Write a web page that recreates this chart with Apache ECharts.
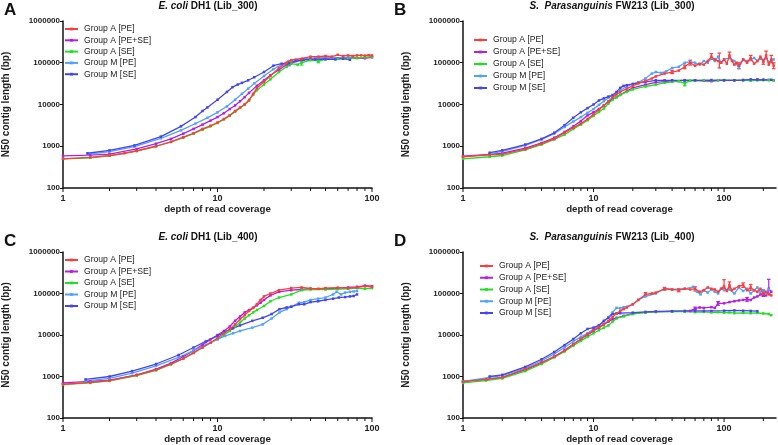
<!DOCTYPE html>
<html><head><meta charset="utf-8">
<script src="https://cdn.jsdelivr.net/npm/echarts@6/dist/echarts.min.js"></script>
<style>html,body{margin:0;padding:0;background:#fff}#c{width:778px;height:445px}</style>
</head><body><div id="c"></div>
<script>
// ---------- DATA ----------
const seriesNames = ['Group A [PE]', 'Group A [PE+SE]', 'Group A [SE]', 'Group M [PE]', 'Group M [SE]'];
const panelTitlesItalic = ['E. coli', 'S.  Parasanguinis', 'E. coli', 'S.  Parasanguinis'];
const panelTitlesRest = [' DH1 (Lib_300)', ' FW213 (Lib_300)', ' DH1 (Lib_400)', ' FW213 (Lib_400)'];
const panelLetters = ['A', 'B', 'C', 'D'];
const xMaxByPanel = [100, 250, 100, 250];
const yTickLabels = ['100', '1000', '10000', '100000', '1000000'];

// Panel A : E. coli DH1 (Lib_300)  [coverage, N50]
const A_APE = [[1,500],[1.5,540],[2,600],[2.5,680],[3,780],[4,1000],[5,1280],[6,1650],[7,2050],[8,2600],[9,3100],[10,3700],[11,4500],[12,5500],[13,7000],[14,8500],[15,10000],[16,12500],[17,18000],[18,25000],[20,35000],[22,48000],[25,75000],[28,100000],[30,115000],[35,125000],[40,140000],[45,140000],[50,145000],[55,140000],[60,155000],[65,145000],[70,150000],[75,145000],[80,150000],[85,150000],[90,148000],[95,152000],[100,150000]];
const A_APESE = [[1,590],[1.5,610],[2,650],[3,860],[4,1150],[5,1500],[6,2000],[7,2600],[8,3300],[9,4100],[10,5000],[11,6200],[12,7800],[13,9500],[14,12000],[15,15000],[16,19000],[18,28000],[20,38000],[22,50000],[25,68000],[28,90000],[30,100000],[35,115000],[40,125000],[50,130000],[60,128000],[70,132000],[80,130000],[90,128000],[100,135000]];
const A_ASE = [[1,500],[1.5,530],[2,590],[3,760],[4,1000],[5,1270],[6,1600],[7,2000],[8,2500],[9,3000],[10,3600],[11,4400],[12,5400],[13,6700],[14,8300],[15,10000],[16,13000],[17,17000],[18,22000],[20,30000],[22,40000],[25,60000],[28,80000],[30,95000],[33,90000],[35,100000],[40,115000],[45,110000],[50,120000],[60,125000],[70,128000],[80,130000],[90,135000],[100,140000]];
const A_MPE = [[1.44,640],[2,740],[2.9,980],[4.3,1550],[5.8,2400],[7.2,3500],[8.6,4800],[10,6500],[11.5,9000],[13,13000],[14.4,18000],[15.8,24000],[17.3,32000],[20,48000],[23,70000],[26,90000],[29,110000],[32,120000],[36,125000],[43,128000],[50,130000],[58,130000],[65,132000],[72,130000]];
const A_MSE = [[1.44,680],[2,800],[2.9,1050],[4.3,1700],[5.8,3000],[7.2,5000],[8,7000],[8.6,8500],[10,13000],[11.5,20000],[12.5,26000],[13.5,30000],[14.4,33000],[15.8,38000],[17.3,45000],[20,60000],[23,85000],[26,95000],[29,98000],[32,110000],[36,118000],[43,120000],[50,122000],[58,120000],[65,125000],[72,118000]];

// Panel B : S. Parasanguinis FW213 (Lib_300)
const B_APE = [[1,560],[1.6,620],[2,650],[3,850],[4,1150],[5,1500],[6,2100],[7,2800],[8,3500],[9,4500],[10,5800],[11,7500],[12,9500],[13,12000],[14,15000],[15,17500],[16,20000],[18,24000],[20,28000],[22,32000],[25,37000],[28,42000],[30,47000],[35,55000],[40,60000],[45,65000],[50,80000],[55,100000],[60,85000],[65,95000],[70,90000],[75,110000],[80,140000],[85,120000],[90,110000],[95,100000],[100,120000],[105,95000],[110,150000],[115,110000],[120,90000],[125,100000],[130,85000],[140,120000],[150,100000],[160,130000],[170,95000],[180,110000],[190,140000],[200,105000],[210,150000],[220,90000],[230,120000],[240,85000]];
const B_APESE = [[1,580],[1.6,640],[2,680],[3,900],[4,1200],[5,1600],[6,2200],[7,3000],[8,4000],[9,5500],[10,6500],[11,7800],[12,9500],[13,11500],[14,13500],[15,15000],[16,17000],[18,21000],[20,25000],[25,30000],[30,34000],[40,37000],[50,38000],[60,38000],[70,37000],[80,36000],[90,38000],[100,38000],[120,38000],[140,38500],[160,38000],[180,40000],[200,39000],[220,39000],[240,38000]];
const B_ASE = [[1,500],[1.6,560],[2,600],[3,820],[4,1100],[5,1450],[6,1900],[7,2600],[8,3300],[9,4200],[10,5300],[11,6600],[12,8000],[13,10500],[14,13000],[15,15000],[16,17000],[18,20000],[20,23000],[25,27000],[30,30000],[35,33000],[40,35000],[45,36000],[50,32000],[55,37000],[60,37000],[70,38000],[80,37000],[90,38000],[100,38500],[120,38000],[140,38000],[160,37500],[180,38000],[200,38500],[220,38000],[240,38000]];
const B_MPE = [[1.6,660],[2,750],[3,1050],[4,1450],[5,2000],[6,2900],[7,3900],[8,5000],[9,6300],[10,7800],[11,9800],[12,12000],[13,14500],[14,17000],[16,22000],[18,27000],[20,31000],[22,34000],[25,42000],[28,55000],[30,60000],[33,57000],[36,62000],[40,75000],[45,80000],[50,100000],[55,105000],[60,100000],[65,90000],[70,110000],[75,100000],[80,130000],[85,110000],[90,140000],[95,100000],[100,120000],[110,130000],[120,110000],[130,75000],[140,120000],[150,110000],[160,120000],[170,130000],[180,110000],[190,125000],[200,115000],[210,130000],[220,105000],[240,120000]];
const B_MSE = [[1.6,700],[2,800],[3,1100],[4,1500],[5,2100],[6,3200],[7,4800],[8,6500],[9,8200],[10,10000],[11,12500],[12,14000],[13,15500],[14,16500],[15,20000],[16,25000],[17,28000],[18,29000],[20,31000],[22,33000],[25,35000],[30,38000],[35,38000],[40,38000],[50,38000],[60,38000],[80,38500],[100,38000],[120,38000],[140,38500],[160,40000],[180,39000],[200,39000],[230,39000]];

// Panel C : E. coli DH1 (Lib_400)
const C_APE = [[1,650],[1.5,720],[2,800],[3,1080],[4,1450],[5,2000],[6,2700],[7,3700],[8,5000],[9,6500],[10,8500],[11,11000],[12,14000],[13,18000],[14,24000],[15,30000],[16,38000],[17,45000],[18,55000],[19,70000],[20,85000],[22,100000],[25,120000],[30,135000],[35,140000],[40,132000],[45,130000],[50,135000],[60,138000],[70,135000],[80,140000],[90,150000],[100,145000]];
const C_APESE = [[1,700],[1.5,760],[2,820],[3,1100],[4,1500],[5,2100],[6,3000],[7,4200],[8,5800],[9,7800],[10,10000],[11,12500],[12,16000],[13,22000],[14,28000],[15,35000],[16,40000],[17,45000],[18,52000],[19,60000],[20,70000],[22,90000],[25,110000],[30,120000],[35,125000],[40,130000],[50,130000],[60,135000],[70,140000],[80,145000],[90,155000],[100,150000]];
const C_ASE = [[1,640],[1.5,700],[2,780],[3,1050],[4,1400],[5,1950],[6,2700],[7,3700],[8,5000],[9,6500],[10,8000],[11,10000],[12,12500],[13,16000],[14,20000],[15,25000],[16,30000],[17,35000],[18,40000],[20,50000],[22,65000],[25,80000],[30,95000],[35,120000],[40,125000],[50,125000],[60,128000],[70,130000],[80,135000],[90,130000],[100,135000]];
const C_MPE = [[1.4,780],[2,900],[2.8,1200],[4,1800],[5.6,2900],[7,4200],[8.4,5800],[10,7800],[11.2,9500],[12.6,11000],[14,12500],[16.8,15000],[19.6,18000],[22.4,25000],[25.2,35000],[28,42000],[30,48000],[33.6,60000],[36.4,62000],[40,70000],[44.8,75000],[50,80000],[56,95000],[59,110000],[63,95000],[67,105000],[72,110000],[76,112000],[80,115000]];
const C_MSE = [[1.4,850],[2,1000],[2.8,1350],[4,2000],[5.6,3300],[7,5000],[8.4,7000],[10,9500],[11.2,12000],[12.6,14500],[14,17000],[16.8,22000],[19.6,26000],[22.4,32000],[25.2,42000],[28,46000],[30,48000],[33.6,55000],[36.4,55000],[40,62000],[44.8,65000],[50,70000],[56,75000],[61,80000],[67,82000],[72,85000],[76,87000],[80,95000]];

// Panel D : S. Parasanguinis FW213 (Lib_400)
const D_APE = [[1,750],[1.5,850],[2,950],[3,1500],[4,2200],[5,3000],[6,4200],[7,6000],[8,8000],[9,10500],[10,13000],[11,15500],[12,18000],[13,22000],[14,27000],[15,33000],[16,38000],[17,42000],[18,46000],[20,55000],[22,70000],[25,95000],[28,100000],[30,105000],[35,130000],[40,125000],[45,120000],[50,130000],[55,125000],[60,130000],[65,110000],[70,120000],[75,140000],[80,130000],[85,125000],[90,110000],[95,130000],[100,150000],[105,115000],[110,160000],[115,120000],[120,130000],[130,150000],[140,160000],[150,120000],[160,140000],[170,120000],[180,110000],[190,130000],[200,100000],[210,110000],[220,95000],[230,90000]];
const D_APESE = [[1,760],[1.5,850],[2,950],[3,1450],[4,2100],[5,3000],[6,4300],[7,6000],[8,8000],[9,10000],[10,12500],[11,15000],[12,18000],[13,21000],[14,24000],[15,26000],[17,29000],[20,33000],[25,35000],[30,36000],[40,37000],[50,37500],[55,38000],[60,43000],[65,46000],[70,45000],[80,47000],[85,45000],[90,58000],[100,58000],[110,62000],[120,65000],[130,68000],[140,70000],[150,72000],[160,70000],[170,80000],[180,85000],[190,95000],[200,100000],[210,90000],[220,130000],[230,110000]];
const D_ASE = [[1,700],[1.5,800],[2,900],[3,1350],[4,2000],[5,2900],[6,4000],[7,5500],[8,7200],[9,9000],[10,11000],[11,13000],[12,15000],[13,17000],[14,21000],[15,25000],[17,28000],[20,32000],[25,35000],[30,36000],[40,37000],[50,36500],[60,35500],[70,36000],[80,35000],[90,35500],[100,34500],[110,35000],[120,33500],[140,34000],[160,33500],[180,34000],[200,33000],[220,32000],[230,30000]];
const D_MPE = [[1,760],[1.6,950],[2,1050],[3,1600],[4,2400],[5,3500],[6,5000],[7,7000],[8,9000],[9,11000],[10,14000],[11,17000],[12,21000],[13,27000],[14,35000],[15,45000],[16,44000],[17,47000],[20,55000],[22,70000],[25,85000],[30,100000],[35,130000],[40,125000],[50,130000],[58,145000],[62,110000],[66,95000],[70,120000],[75,105000],[80,125000],[85,110000],[90,100000],[95,130000],[100,120000],[110,125000],[120,100000],[130,140000],[140,115000],[150,130000],[160,100000],[170,120000],[180,140000],[190,110000],[200,120000],[210,100000],[220,125000]];
const D_MSE = [[1.6,1000],[2,1100],[3,1700],[4,2600],[5,3900],[6,5700],[7,8000],[8,11000],[9,14000],[10,15000],[11,17000],[12,22000],[13,26000],[14,32000],[15,33000],[16,33500],[20,34500],[25,36000],[30,37000],[40,37500],[50,38000],[60,38000],[70,38000],[80,38000],[100,38500],[120,39000],[140,38500],[160,38000],[180,37500]];

// Error bars [coverage, low, high]
const A_ASE_err = [[35,88000,110000],[45,100000,120000]];
const A_MSE_err = [[29,85000,110000]];
const B_APE_err = [[40,55000,66000],[50,72000,88000],[55,88000,115000],[80,120000,165000],[92,75000,170000],[110,125000,180000],[130,72000,100000],[160,112000,150000],[200,92000,122000],[210,125000,190000],[230,100000,150000],[240,72000,100000]];
const B_ASE_err = [[50,28000,36000]];
const D_APE_err = [[25,85000,105000],[35,120000,140000],[45,110000,132000],[60,115000,145000],[100,130000,215000],[110,130000,190000],[140,140000,180000],[160,120000,165000],[200,90000,120000]];
const D_APESE_err = [[60,40000,47000],[90,52000,64000],[150,65000,80000],[200,85000,120000],[220,100000,220000]];
const panelErrors = [
  [[], [], A_ASE_err, [], A_MSE_err],
  [B_APE_err, [], B_ASE_err, [], []],
  [[], [], [], [], []],
  [D_APE_err, D_APESE_err, [], [], []]
];
const xTickValues = [1,2,3,4,5,6,7,8,9,10,20,30,40,50,60,70,80,90,100,200];

// ---------- STYLE / LAYOUT ----------
const colors = ['#ff3b3b', '#b31fe6', '#1fe01f', '#4da3ff', '#4545f0'];
const FONT = '"Liberation Sans", Arial, sans-serif';
const grids = [
  {left: 60, top: 21, width: 312, height: 167},
  {left: 463, top: 21, width: 313, height: 167},
  {left: 60, top: 252, width: 312, height: 166},
  {left: 463, top: 252, width: 313, height: 166}
];
const legendPos = [
  {left: 64, top: 24, itemGap: 1.3},
  {left: 473, top: 35, itemGap: 2},
  {left: 64, top: 255, itemGap: 1.5},
  {left: 479, top: 261, itemGap: 1.75}
];
const letterPos = [[4, 2], [394, 2], [4, 233], [394, 233]];
const titleY = [6, 6, 237, 237];
const titleX = [208, 612, 208, 612];

const chart = echarts.init(document.getElementById('c'), null, {renderer: 'canvas'});

function panelData(p) {
  return [
    [A_APE, A_APESE, A_ASE, A_MPE, A_MSE],
    [B_APE, B_APESE, B_ASE, B_MPE, B_MSE],
    [C_APE, C_APESE, C_ASE, C_MPE, C_MSE],
    [D_APE, D_APESE, D_ASE, D_MPE, D_MSE]
  ][p];
}

const xAxes = [], yAxes = [], series = [], legends = [], graphics = [];
for (let p = 0; p < 4; p++) {
  xAxes.push({
    gridIndex: p, type: 'log', logBase: 10, min: 1, max: xMaxByPanel[p],
    name: 'depth of read coverage', nameLocation: 'middle', nameGap: 16,
    nameTextStyle: {fontFamily: FONT, fontWeight: 'bold', fontSize: 9.7, color: '#222'},
    axisLine: {lineStyle: {color: '#111', width: 1.5}},
    axisTick: {show: false},
    axisLabel: {fontFamily: FONT, fontWeight: 'bold', fontSize: 9, color: '#222', margin: 6,
      showMaxLabel: xMaxByPanel[p] === 100},
    splitLine: {show: false}
  });
  yAxes.push({
    gridIndex: p, type: 'log', logBase: 10, min: 100, max: 1000000,
    name: 'N50 contig length (bp)', nameLocation: 'middle', nameGap: 52, nameRotate: 90,
    nameTextStyle: {fontFamily: FONT, fontWeight: 'bold', fontSize: 10, color: '#222'},
    axisLine: {show: true, lineStyle: {color: '#111', width: 1.5}},
    axisTick: {show: true, length: 3, lineStyle: {color: '#111', width: 1}},
    axisLabel: {fontFamily: FONT, fontWeight: 'bold', fontSize: 8, color: '#222', margin: 3,
      formatter: v => yTickLabels.includes(String(Math.round(v))) ? String(Math.round(v)) : ''},
    splitLine: {show: false}
  });
  for (let s = 0; s < 5; s++) {
    series.push({
      type: 'line', name: seriesNames[s], xAxisIndex: p, yAxisIndex: p,
      data: panelData(p)[s],
      symbol: 'rect', symbolSize: 2.5, showSymbol: true,
      lineStyle: {width: 1.3, color: colors[s]},
      itemStyle: {color: colors[s]},
      z: 2 + (s === 0 ? 1 : 0),
      animation: false
    });
    if (panelErrors[p][s].length) {
      series.push({
        type: 'custom', xAxisIndex: p, yAxisIndex: p, silent: true, animation: false, z: 2,
        data: panelErrors[p][s],
        renderItem: (function (col) {
          return function (params, api) {
            const lo = api.coord([api.value(0), api.value(1)]);
            const hi = api.coord([api.value(0), api.value(2)]);
            const st = {stroke: col, lineWidth: 1.2};
            return {type: 'group', children: [
              {type: 'line', shape: {x1: lo[0], y1: lo[1], x2: hi[0], y2: hi[1]}, style: st},
              {type: 'line', shape: {x1: lo[0] - 1.8, y1: lo[1], x2: lo[0] + 1.8, y2: lo[1]}, style: st},
              {type: 'line', shape: {x1: hi[0] - 1.8, y1: hi[1], x2: hi[0] + 1.8, y2: hi[1]}, style: st}
            ]};
          };
        })(colors[s])
      });
    }
  }
  // x-axis ticks (major at decades, minor between) drawn through the axis scale
  series.push({
    type: 'custom', xAxisIndex: p, yAxisIndex: p, silent: true, clip: false, animation: false,
    data: xTickValues.filter(v => v <= xMaxByPanel[p]).map(v => [v, 100]),
    renderItem: function (params, api) {
      const v = api.value(0);
      const pt = api.coord([v, api.value(1)]);
      const major = Math.abs(Math.log10(v) - Math.round(Math.log10(v))) < 1e-9;
      const len = major ? 4 : 3;
      return {type: 'line', shape: {x1: pt[0], y1: pt[1], x2: pt[0], y2: pt[1] + len},
        style: {stroke: '#111', lineWidth: 1}};
    }
  });
  legends.push({
    data: seriesNames, orient: 'vertical', left: legendPos[p].left, top: legendPos[p].top,
    itemWidth: 13, itemHeight: 3.5, itemGap: legendPos[p].itemGap, padding: 0,
    textStyle: {fontFamily: FONT, fontSize: 8.6, lineHeight: 10, color: '#222', padding: [0, 0, 0, 1]},
    selectedMode: false
  });
  graphics.push({
    type: 'text', left: letterPos[p][0], top: letterPos[p][1],
    style: {text: panelLetters[p], font: 'bold 17px ' + FONT, fill: '#111'}
  });
  graphics.push({
    type: 'text', x: titleX[p], y: titleY[p],
    style: {
      text: '{i|' + panelTitlesItalic[p] + '}{n|' + panelTitlesRest[p] + '}',
      align: 'center', verticalAlign: 'middle',
      rich: {
        i: {font: 'italic bold 10px ' + FONT, fill: '#111'},
        n: {font: 'bold 10px ' + FONT, fill: '#111'}
      }
    }
  });
}

chart.setOption({
  animation: false,
  backgroundColor: '#fff',
  grid: grids,
  xAxis: xAxes,
  yAxis: yAxes,
  legend: legends,
  series: series,
  graphic: graphics
});
</script></body></html>
